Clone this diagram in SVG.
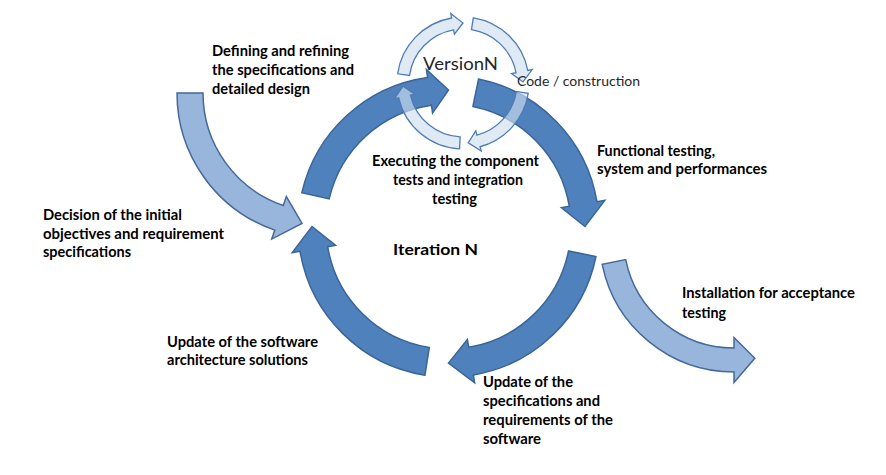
<svg xmlns="http://www.w3.org/2000/svg" width="886" height="475" viewBox="0 0 886 475">
<style>
.main{fill:#4F81BD;stroke:#3A6598;stroke-width:1.5;stroke-linejoin:miter}
.light{fill:#98B6DC;stroke:#46699A;stroke-width:1.5}
.small{fill:#D0DEF0;fill-opacity:0.65;stroke:#4F7CB6;stroke-width:1.3}
.lbl{font-family:Lato,"Liberation Sans",sans-serif;font-weight:bold;font-size:14.5px;fill:#000}
.reg{font-family:Lato,"Liberation Sans",sans-serif;font-weight:normal;fill:#262626}
</style>
<rect width="886" height="475" fill="#fff"/>
<g id="arrows">
  <path id="light-left" class="light" d="M 177,93 A 145 145 0 0 0 274.79,230.10 L 271.70,239.08 L 302.03,223.48 L 286.35,196.53 L 283.26,205.52 A 119 119 0 0 1 203,93 Z"/>
  <path id="light-right" class="light" d="M 602.20,264.32 A 134.5 134.5 0 0 0 734,372 L 734,382.5 L 754.85,358.21 L 734,337.5 L 734,348 A 110.5 110.5 0 0 1 625.72,259.53 Z"/>
  <path id="main-1" class="main" d="M 301.86,192.64 A 150.5 150.5 0 0 1 427.55,77.46 L 426.44,69.54 L 448.5,90 L 432.56,113.11 L 431.45,105.19 A 122.5 122.5 0 0 0 329.14,198.94 Z"/>
  <path id="main-2" class="main" d="M 478.51,79.02 A 150.5 150.5 0 0 1 596.94,201.66 L 604.83,200.34 L 585,226.5 L 561.43,207.60 L 569.32,206.28 A 122.5 122.5 0 0 0 472.92,106.46 Z"/>
  <path id="main-3" class="main" d="M 595.98,256.51 A 150.5 150.5 0 0 1 473.34,374.94 L 474.66,382.83 L 448.5,363 L 467.40,339.43 L 468.72,347.32 A 122.5 122.5 0 0 0 568.54,250.92 Z"/>
  <path id="main-4" class="main" d="M 424.96,375.15 A 150.5 150.5 0 0 1 300.06,251.34 L 292.17,252.66 L 312,226.5 L 335.57,245.40 L 327.68,246.72 A 122.5 122.5 0 0 0 429.34,347.49 Z"/>
  <path id="small-a" class="small" d="M 397.64,73.81 A 66 66 0 0 1 451.54,18.0 L 450.76,13.57 L 463,23 L 454.40,34.25 L 453.62,29.82 A 54 54 0 0 0 409.53,75.48 Z"/>
  <path id="small-b" class="small" d="M 473.32,17.81 A 66 66 0 0 1 527.79,70.41 L 532.21,69.55 L 522.99,81.95 L 511.59,73.55 L 516.01,72.70 A 54 54 0 0 0 471.45,29.66 Z"/>
  <path id="small-c" class="small" d="M 528.19,93.32 A 66 66 0 0 1 480.08,146.75 L 481.25,151.10 L 468.23,142.77 L 475.81,130.81 L 476.98,135.16 A 54 54 0 0 0 516.34,91.45 Z"/>
  <path id="small-d" class="small" d="M 459.55,148.91 A 66 66 0 0 1 398.69,97.85 L 394.31,98.86 L 403.08,86.14 L 414.77,94.13 L 410.38,95.15 A 54 54 0 0 0 460.17,136.93 Z"/>
</g>
<g id="version">
  <text class="reg" x="423" y="70" font-size="17" textLength="75" lengthAdjust="spacingAndGlyphs">VersionN</text>
</g>
<g id="code">
  <text class="reg" x="517" y="86" font-size="13" textLength="123" lengthAdjust="spacingAndGlyphs">Code / construction</text>
</g>
<g id="defining">
  <text class="lbl" x="212" y="56" textLength="137" lengthAdjust="spacingAndGlyphs">Defining and refining</text>
  <text class="lbl" x="212" y="75" textLength="142" lengthAdjust="spacingAndGlyphs">the specifications and</text>
  <text class="lbl" x="212" y="94" textLength="98" lengthAdjust="spacingAndGlyphs">detailed design</text>
</g>
<g id="decision">
  <text class="lbl" x="43" y="220" textLength="139" lengthAdjust="spacingAndGlyphs">Decision of the initial</text>
  <text class="lbl" x="43" y="238.5" textLength="181" lengthAdjust="spacingAndGlyphs">objectives and requirement</text>
  <text class="lbl" x="43" y="257" textLength="88" lengthAdjust="spacingAndGlyphs">specifications</text>
</g>
<g id="executing">
  <text class="lbl" x="372" y="166" textLength="167" lengthAdjust="spacingAndGlyphs">Executing the component</text>
  <text class="lbl" x="393" y="185" textLength="130" lengthAdjust="spacingAndGlyphs">tests and integration</text>
  <text class="lbl" x="432" y="204" textLength="45" lengthAdjust="spacingAndGlyphs">testing</text>
</g>
<g id="functional">
  <text class="lbl" x="597" y="156" textLength="118" lengthAdjust="spacingAndGlyphs">Functional testing,</text>
  <text class="lbl" x="597" y="174" textLength="170" lengthAdjust="spacingAndGlyphs">system and performances</text>
</g>
<g id="iteration">
  <text class="lbl" x="393" y="255" font-size="16.5" textLength="85" lengthAdjust="spacingAndGlyphs">Iteration N</text>
</g>
<g id="installation">
  <text class="lbl" x="682" y="298" textLength="173" lengthAdjust="spacingAndGlyphs">Installation for acceptance</text>
  <text class="lbl" x="682" y="318" textLength="44" lengthAdjust="spacingAndGlyphs">testing</text>
</g>
<g id="update-arch">
  <text class="lbl" x="167" y="346.5" textLength="151" lengthAdjust="spacingAndGlyphs">Update of the software</text>
  <text class="lbl" x="167" y="365" textLength="141" lengthAdjust="spacingAndGlyphs">architecture solutions</text>
</g>
<g id="update-spec">
  <text class="lbl" x="483" y="386.5" textLength="90" lengthAdjust="spacingAndGlyphs">Update of the</text>
  <text class="lbl" x="483" y="405.5" textLength="117" lengthAdjust="spacingAndGlyphs">specifications and</text>
  <text class="lbl" x="483" y="425" textLength="130" lengthAdjust="spacingAndGlyphs">requirements of the</text>
  <text class="lbl" x="483" y="444" textLength="58" lengthAdjust="spacingAndGlyphs">software</text>
</g>
</svg>
